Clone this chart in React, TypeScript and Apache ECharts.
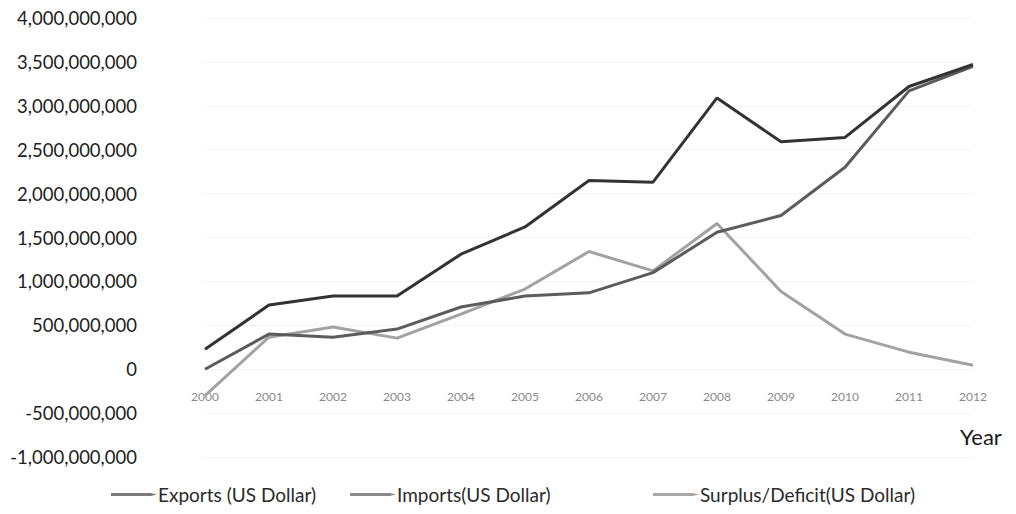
import React, { useEffect, useRef } from "react";
import * as echarts from "echarts";

const years = ["2000", "2001", "2002", "2003", "2004", "2005", "2006", "2007", "2008", "2009", "2010", "2011", "2012"];
const exportsUSD = [228e6, 730e6, 833e6, 833e6, 1310e6, 1620e6, 2150e6, 2130e6, 3090e6, 2590e6, 2640e6, 3220e6, 3470e6];
const importsUSD = [0, 400e6, 365e6, 457e6, 708e6, 833e6, 870e6, 1100e6, 1560e6, 1750e6, 2300e6, 3170e6, 3450e6];
const surplusUSD = [-300e6, 365e6, 480e6, 354e6, 628e6, 913e6, 1340e6, 1120e6, 1660e6, 885e6, 400e6, 194e6, 46e6];
const seriesNames = ["Exports (US Dollar)", "Imports(US Dollar)", "Surplus/Deficit(US Dollar)"];
const legendColors = ["#7a7a7a", "#8a8a8a", "#a8a8a8"];

const FONT = "Lato, 'Open Sans', sans-serif";
const legendIcon = "path://M0,1 L38,1 L44,2.5 L38,4 L0,4 Z";

export default function App() {
  const ref = useRef<HTMLDivElement>(null);
  useEffect(() => {
    if (!ref.current) return;
    const chart = echarts.init(ref.current, null, { renderer: "svg" });
    const legendBase = {
      top: 480,
      icon: legendIcon,
      itemWidth: 46,
      itemHeight: 5,
      itemGap: 2,
      selectedMode: false,
      textStyle: { fontFamily: FONT, fontSize: 19, color: "#2a2a2a", padding: [0, 0, 0, -4] },
    };
    const legendItem = (i: number) => ({
      name: seriesNames[i],
      itemStyle: { color: legendColors[i] },
      lineStyle: { color: legendColors[i] },
    });
    chart.setOption({
      animation: false,
      backgroundColor: "#ffffff",
      grid: { left: 205, right: 43, top: 18, bottom: 57, containLabel: false },
      legend: [
        { ...legendBase, left: 106, data: [legendItem(0)] },
        { ...legendBase, left: 345, data: [legendItem(1)] },
        { ...legendBase, left: 648, data: [legendItem(2)] },
      ],
      graphic: [
        {
          type: "text",
          left: 960,
          top: 425,
          style: { text: "Year", fontFamily: FONT, fontSize: 22, fill: "#1a1a1a" },
        },
      ],
      xAxis: {
        type: "category",
        data: years,
        boundaryGap: false,
        offset: -87,
        axisLine: { show: false, onZero: false },
        axisTick: { show: false },
        axisLabel: { margin: 20, fontFamily: FONT, fontSize: 12, color: "#8a8a8a" },
        splitLine: { show: false },
      },
      yAxis: {
        type: "value",
        min: -1e9,
        max: 4e9,
        interval: 5e8,
        axisLine: { show: false },
        axisTick: { show: false },
        splitLine: { show: true, lineStyle: { color: "#f3f3f3", width: 1 } },
        axisLabel: {
          margin: 68,
          fontFamily: FONT,
          fontSize: 18.5,
          color: "#1e1e1e",
          formatter: (v: number) => v.toLocaleString("en-US"),
        },
      },
      series: [
        {
          name: seriesNames[2],
          type: "line",
          data: surplusUSD,
          showSymbol: false,
          lineStyle: { width: 3, color: "#a2a2a2" },
          itemStyle: { color: "#a2a2a2" },
          z: 2,
        },
        {
          name: seriesNames[1],
          type: "line",
          data: importsUSD,
          showSymbol: false,
          lineStyle: { width: 3, color: "#5c5c5c" },
          itemStyle: { color: "#8a8a8a" },
          z: 3,
        },
        {
          name: seriesNames[0],
          type: "line",
          data: exportsUSD,
          showSymbol: false,
          lineStyle: { width: 3, color: "#333333" },
          itemStyle: { color: "#7a7a7a" },
          z: 4,
        },
      ],
    });
    return () => chart.dispose();
  }, []);
  return (
    <div
      ref={ref}
      style={{ position: "fixed", left: 0, top: 0, width: 1016, height: 514, background: "#fff" }}
    />
  );
}
